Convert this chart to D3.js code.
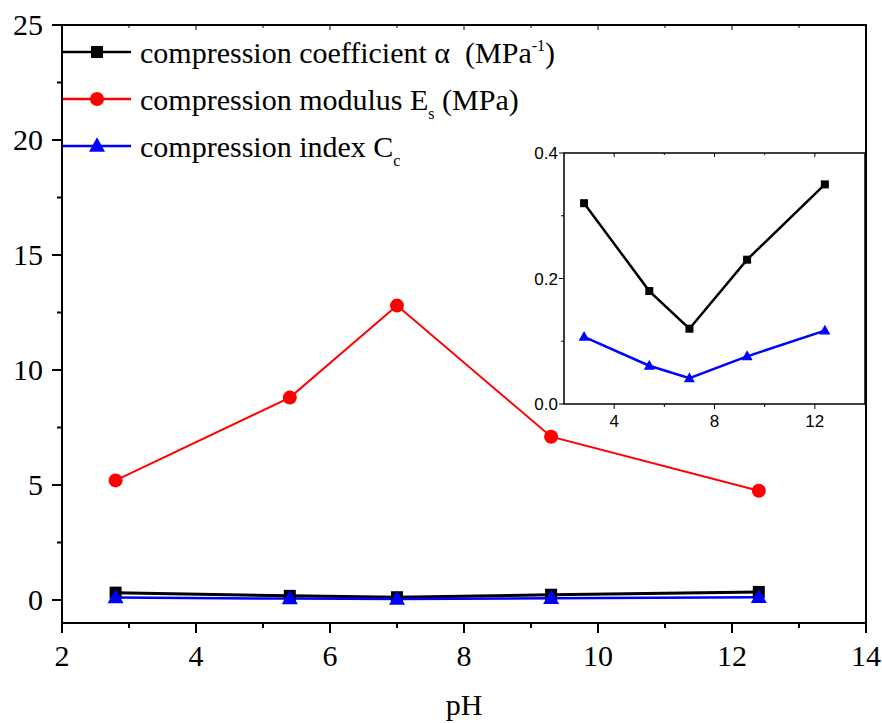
<!DOCTYPE html>
<html>
<head>
<meta charset="utf-8">
<script src="https://cdn.jsdelivr.net/npm/d3@7"></script>
<style>
  html, body { margin: 0; padding: 0; background: #fff; }
  svg { display: block; }
</style>
</head>
<body>
<svg id="chart" width="882" height="723"></svg>
<script>
// pH values of the samples
const ph = [2.8, 5.4, 7.0, 9.3, 12.4];
// compression coefficient α (MPa^-1)
const coefA = [0.32, 0.18, 0.12, 0.23, 0.35];
// compression modulus Es (MPa)
const modulusEs = [5.2, 8.8, 12.8, 7.1, 4.75];
// compression index Cc
const indexCc = [0.107, 0.061, 0.041, 0.076, 0.117];

const xTicks = [2, 4, 6, 8, 10, 12, 14];
const yTicks = [0, 5, 10, 15, 20, 25];
const insetXTicks = [4, 8, 12];
const insetYTicks = [0.0, 0.2, 0.4];

const SERIF = '"Liberation Serif", "Times New Roman", serif';
const SANS = '"Liberation Sans", Arial, sans-serif';

const svg = d3.select("#chart");

// ---- main plot ----
const L = 62, R = 866, T = 25, B = 623;
const x = d3.scaleLinear().domain([2, 14]).range([L, R]);
const y = d3.scaleLinear().domain([-1, 25]).range([B, T]);

const g = svg.append("g");

// frame
g.append("rect").attr("x", L).attr("y", T).attr("width", R - L).attr("height", B - T)
  .attr("fill", "none").attr("stroke", "#000").attr("stroke-width", 2);

const minorX = d3.range(3, 14, 2);
const minorY = d3.range(2.5, 25, 5);

// bottom axis ticks (outward)
xTicks.forEach(v => g.append("line").attr("x1", x(v)).attr("x2", x(v)).attr("y1", B).attr("y2", B + 10).attr("stroke", "#000").attr("stroke-width", 2));
minorX.forEach(v => g.append("line").attr("x1", x(v)).attr("x2", x(v)).attr("y1", B).attr("y2", B + 5).attr("stroke", "#000").attr("stroke-width", 2));
// top axis ticks (inward)
xTicks.forEach(v => g.append("line").attr("x1", x(v)).attr("x2", x(v)).attr("y1", T).attr("y2", T + 5).attr("stroke", "#000").attr("stroke-width", 1));
minorX.forEach(v => g.append("line").attr("x1", x(v)).attr("x2", x(v)).attr("y1", T).attr("y2", T + 3).attr("stroke", "#000").attr("stroke-width", 1));
// left axis ticks (outward)
yTicks.forEach(v => g.append("line").attr("x1", L - 10).attr("x2", L).attr("y1", y(v)).attr("y2", y(v)).attr("stroke", "#000").attr("stroke-width", 2));
minorY.forEach(v => g.append("line").attr("x1", L - 5).attr("x2", L).attr("y1", y(v)).attr("y2", y(v)).attr("stroke", "#000").attr("stroke-width", 2));

// tick labels
g.selectAll(".xl").data(xTicks).enter().append("text")
  .attr("x", d => x(d)).attr("y", 666).attr("text-anchor", "middle")
  .style("font-family", SERIF).style("font-size", "30px").text(d => d);
g.selectAll(".yl").data(yTicks).enter().append("text")
  .attr("x", 43).attr("y", d => y(d) + 10).attr("text-anchor", "end")
  .style("font-family", SERIF).style("font-size", "30px").text(d => d);

// axis title
g.append("text").attr("x", 464).attr("y", 715).attr("text-anchor", "middle")
  .style("font-family", SERIF).style("font-size", "30px").text("pH");

const line = (ys, sx, sy) => d3.line().x((d, i) => sx(ph[i])).y(d => sy(d))(ys);

function square(sel, cx, cy, s, color) {
  sel.append("rect").attr("x", cx - s / 2).attr("y", cy - s / 2).attr("width", s).attr("height", s).attr("fill", color);
}
function tri(sel, cx, cy, s, color) {
  const h = s * 0.9;
  sel.append("path").attr("d", `M${cx},${cy - h * 0.6}L${cx + s / 2},${cy + h * 0.4}L${cx - s / 2},${cy + h * 0.4}Z`).attr("fill", color);
}

// series in the main plot
g.append("path").attr("d", line(coefA, x, y)).attr("fill", "none").attr("stroke", "#000").attr("stroke-width", 3);
g.append("path").attr("d", line(indexCc, x, y)).attr("fill", "none").attr("stroke", "#0000ff").attr("stroke-width", 2.5);
g.append("path").attr("d", line(modulusEs, x, y)).attr("fill", "none").attr("stroke", "#ff0000").attr("stroke-width", 2);
coefA.forEach((v, i) => square(g, x(ph[i]), y(v), 12, "#000"));
modulusEs.forEach((v, i) => g.append("circle").attr("cx", x(ph[i])).attr("cy", y(v)).attr("r", 7).attr("fill", "#ff0000"));
indexCc.forEach((v, i) => tri(g, x(ph[i]), y(v), 16, "#0000ff"));

// legend
const legend = g.append("g");
const rows = [
  { y: 52, color: "#000", mark: "square" },
  { y: 99, color: "#ff0000", mark: "circle" },
  { y: 146, color: "#0000ff", mark: "tri" }
];
rows.forEach(r => {
  legend.append("line").attr("x1", 63).attr("x2", 131).attr("y1", r.y).attr("y2", r.y).attr("stroke", r.color).attr("stroke-width", 2.5);
  if (r.mark === "square") square(legend, 97, r.y, 12, r.color);
  else if (r.mark === "circle") legend.append("circle").attr("cx", 97).attr("cy", r.y).attr("r", 7).attr("fill", r.color);
  else tri(legend, 97, r.y, 16, r.color);
});
const legendText = (yy) => legend.append("text").attr("x", 140).attr("y", yy)
  .style("font-family", SERIF).style("font-size", "30px").attr("xml:space", "preserve");
const t1 = legendText(63);
t1.append("tspan").text("compression coefficient α\u00a0\u00a0(MPa");
t1.append("tspan").style("font-size", "16px").attr("dy", -12).text("-1");
t1.append("tspan").attr("dy", 12).text(")");
const t2 = legendText(110);
t2.append("tspan").text("compression modulus E");
t2.append("tspan").style("font-size", "16px").attr("dy", 9).text("s");
t2.append("tspan").attr("dy", -9).text("\u00a0(MPa)");
const t3 = legendText(157);
t3.append("tspan").text("compression index C");
t3.append("tspan").style("font-size", "16px").attr("dy", 9).text("c");

// ---- inset ----
const iL = 564, iR = 865, iT = 153, iB = 404;
const ix = d3.scaleLinear().domain([2, 14]).range([iL, iR]);
const iy = d3.scaleLinear().domain([0, 0.4]).range([iB, iT]);
const ig = svg.append("g");
ig.append("rect").attr("x", iL).attr("y", iT).attr("width", iR - iL).attr("height", iB - iT)
  .attr("fill", "#fff").attr("stroke", "#000").attr("stroke-width", 1.5);

const iMinorX = [6, 10];
insetXTicks.forEach(v => {
  ig.append("line").attr("x1", ix(v)).attr("x2", ix(v)).attr("y1", iB).attr("y2", iB + 5).attr("stroke", "#000").attr("stroke-width", 1);
  ig.append("line").attr("x1", ix(v)).attr("x2", ix(v)).attr("y1", iT).attr("y2", iT + 4).attr("stroke", "#000").attr("stroke-width", 1);
});
iMinorX.forEach(v => {
  ig.append("line").attr("x1", ix(v)).attr("x2", ix(v)).attr("y1", iB).attr("y2", iB + 3).attr("stroke", "#000").attr("stroke-width", 1);
  ig.append("line").attr("x1", ix(v)).attr("x2", ix(v)).attr("y1", iT).attr("y2", iT + 2).attr("stroke", "#000").attr("stroke-width", 1);
});
insetYTicks.forEach(v => ig.append("line").attr("x1", iL - 5).attr("x2", iL).attr("y1", iy(v)).attr("y2", iy(v)).attr("stroke", "#000").attr("stroke-width", 1));
[0.1, 0.3].forEach(v => ig.append("line").attr("x1", iL - 3).attr("x2", iL).attr("y1", iy(v)).attr("y2", iy(v)).attr("stroke", "#000").attr("stroke-width", 1));

ig.selectAll(".ixl").data(insetXTicks).enter().append("text")
  .attr("x", d => ix(d)).attr("y", 427).attr("text-anchor", "middle")
  .style("font-family", SANS).style("font-size", "17px").text(d => d);
ig.selectAll(".iyl").data(insetYTicks).enter().append("text")
  .attr("x", iL - 6).attr("y", d => iy(d) + 6).attr("text-anchor", "end")
  .style("font-family", SANS).style("font-size", "17px").text(d => d.toFixed(1));

ig.append("path").attr("d", line(coefA, ix, iy)).attr("fill", "none").attr("stroke", "#000").attr("stroke-width", 2.5);
ig.append("path").attr("d", line(indexCc, ix, iy)).attr("fill", "none").attr("stroke", "#0000ff").attr("stroke-width", 2.5);
coefA.forEach((v, i) => square(ig, ix(ph[i]), iy(v), 8, "#000"));
indexCc.forEach((v, i) => tri(ig, ix(ph[i]), iy(v), 11, "#0000ff"));
</script>
</body>
</html>
